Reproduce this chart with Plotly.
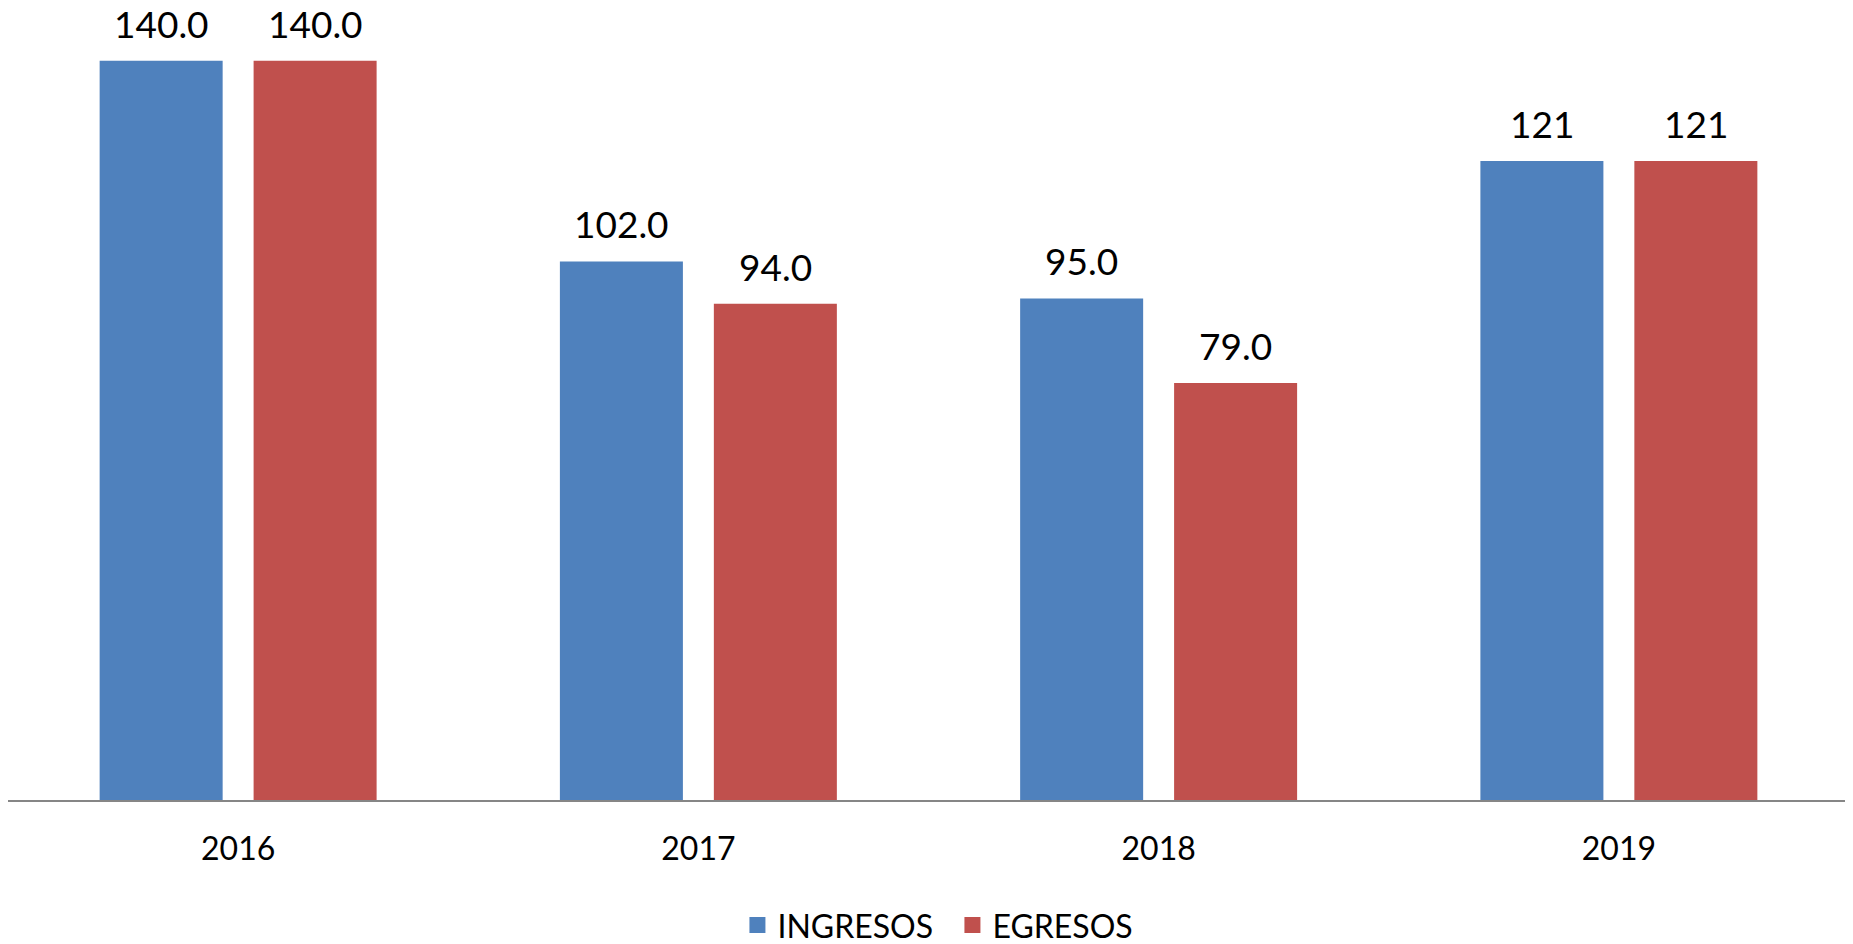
import plotly.graph_objects as go

years = [2016, 2017, 2018, 2019]
ingresos = [140, 102, 95, 121]
egresos = [140, 94, 79, 121]
ingresos_labels = ["140.0", "102.0", "95.0", "121"]
egresos_labels = ["140.0", "94.0", "79.0", "121"]

FONT = "Lato, 'Open Sans', sans-serif"
BLUE = "#4F81BD"
RED = "#C0504D"

fig = go.Figure()
fig.add_trace(go.Bar(name="INGRESOS", x=years, y=ingresos, showlegend=False,
                     marker=dict(color=BLUE, line=dict(width=0))))
fig.add_trace(go.Bar(name="EGRESOS", x=years, y=egresos, showlegend=False,
                     marker=dict(color=RED, line=dict(width=0))))
# legend entries with larger square swatches
fig.add_trace(go.Scatter(name="INGRESOS", x=[years[0]], y=[None], mode="markers",
                         marker=dict(symbol="square", size=21, color=BLUE)))
fig.add_trace(go.Scatter(name="EGRESOS", x=[years[0]], y=[None], mode="markers",
                         marker=dict(symbol="square", size=21, color=RED)))

# value labels above bars
for labels, vals, shift in ((ingresos_labels, ingresos, -77), (egresos_labels, egresos, 77)):
    for yr, v, t in zip(years, vals, labels):
        fig.add_annotation(x=yr, y=v, text=t, showarrow=False, xshift=shift,
                           yanchor="bottom", yshift=13,
                           font=dict(size=37, color="black", family=FONT))

fig.update_layout(
    width=1845, height=936,
    margin=dict(l=0, r=4, t=0, b=144, autoexpand=False),
    paper_bgcolor="white", plot_bgcolor="white",
    barmode="group", bargap=0.331, bargroupgap=0.201,
    font=dict(family=FONT, size=32, color="black"),
    showlegend=True,
    legend=dict(orientation="h", x=0.513, xanchor="center", yref="container",
                y=0.02, yanchor="middle", itemsizing="trace",
                entrywidth=170, entrywidthmode="pixels",
                font=dict(size=32, family=FONT), itemwidth=30),
    xaxis=dict(type="linear", range=[years[0] - 0.5, years[-1] + 0.5],
               tickvals=years, ticktext=[str(y) for y in years],
               showline=True, linecolor="#868686", linewidth=1.5,
               showgrid=False, zeroline=False, automargin=False, ticks="",
               ticklabelstandoff=20, tickfont=dict(size=32, family=FONT)),
    yaxis=dict(range=[0, 150], visible=False, showgrid=False, zeroline=False,
               automargin=False),
)

fig.write_html("out.html")
